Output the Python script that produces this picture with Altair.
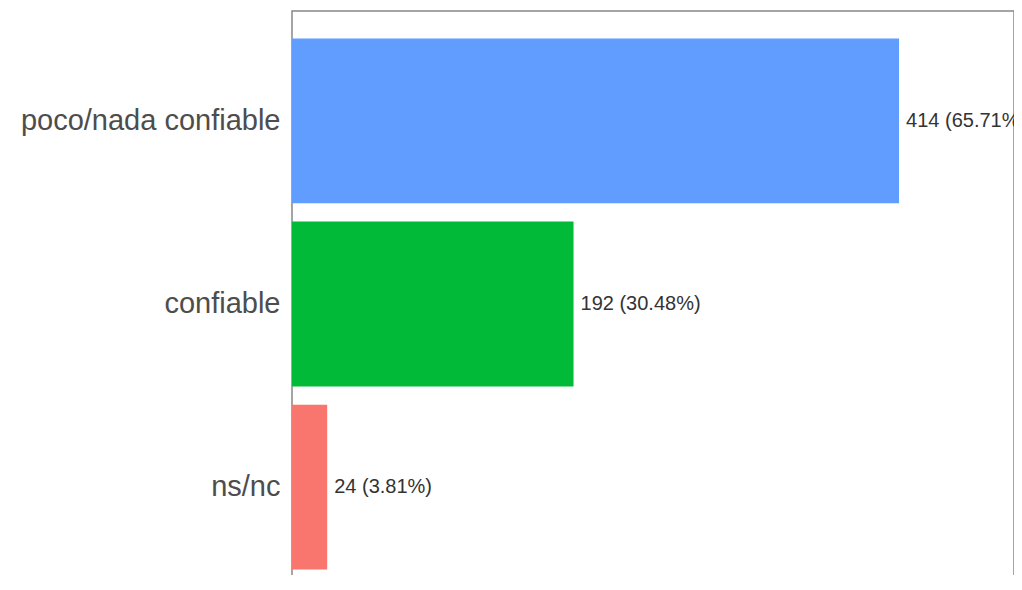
import altair as alt
import pandas as pd

categories = ["poco/nada confiable", "confiable", "ns/nc"]
counts = [414, 192, 24]
percents = ["65.71%", "30.48%", "3.81%"]
colors = ["#619CFF", "#00BA38", "#F8766D"]

df = pd.DataFrame({
    "cat": categories,
    "n": counts,
    "label": [f"{c} ({p})" for c, p in zip(counts, percents)],
})

y_enc = alt.Y(
    "cat:N",
    sort=categories,
    scale=alt.Scale(paddingInner=0.1, paddingOuter=0.15),
    axis=alt.Axis(
        title=None, domain=False, ticks=False, labelPadding=12,
        labelFontSize=29, labelColor="#4d4d4d", labelFont="Liberation Sans",
        labelLimit=400,
    ),
)
x_enc = alt.X("n:Q", scale=alt.Scale(domain=[0, 492.4], nice=False, zero=True), axis=None)

bars = alt.Chart(df).mark_bar().encode(
    x=x_enc,
    y=y_enc,
    color=alt.Color("cat:N", scale=alt.Scale(domain=categories, range=colors), legend=None),
)

text = alt.Chart(df).mark_text(
    align="left", baseline="middle", dx=7, fontSize=20,
    font="Liberation Sans", color="#333333",
).encode(x=x_enc, y=y_enc, text="label:N")

chart = (bars + text).properties(
    width=722, height=586,
    autosize=alt.AutoSizeParams(type="none"),
    padding={"left": 284, "top": 3, "right": 0, "bottom": -22},
).configure_view(stroke="#888888", strokeWidth=1.5)

chart.save("out.html", embed_options={"renderer": "svg", "actions": False})
